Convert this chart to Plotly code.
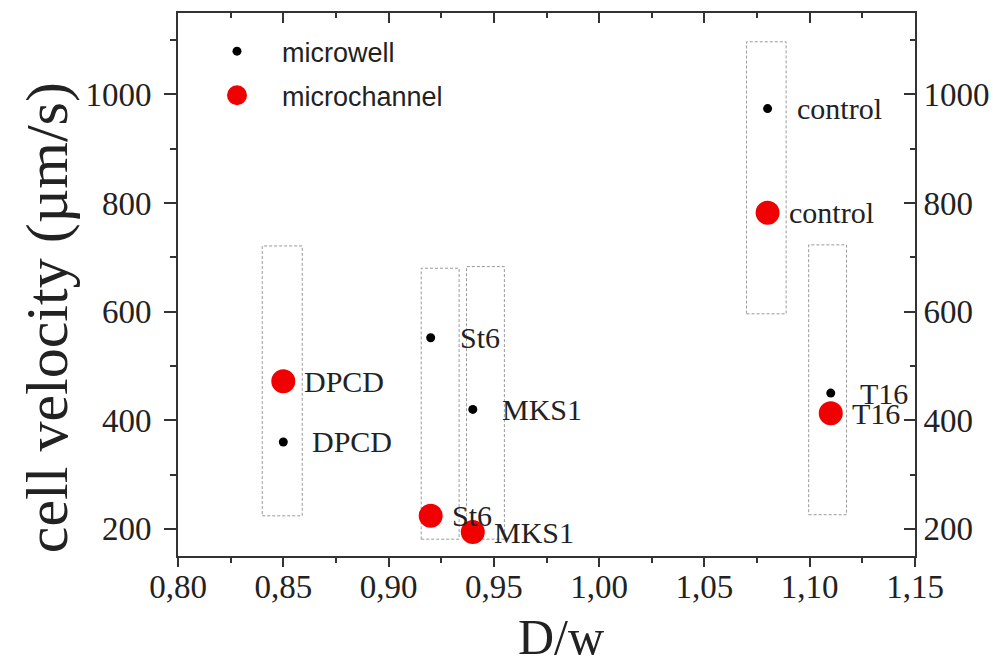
import plotly.graph_objects as go

# ---- data ----
labels = ["DPCD", "St6", "MKS1", "control", "T16"]
dw = [0.85, 0.92, 0.94, 1.08, 1.11]
microwell = [360, 552, 420, 974, 450]
microchannel = [472, 224, 194, 782, 413]

# dotted group boxes (D/w range, velocity range)
box_x0 = [0.840, 0.9155, 0.937, 1.070, 1.0995]
box_x1 = [0.859, 0.9335, 0.955, 1.0888, 1.1175]
box_y0 = [224, 181, 181, 596, 226]
box_y1 = [721, 680, 683, 1097, 723]

x_ticks = [0.80, 0.85, 0.90, 0.95, 1.00, 1.05, 1.10, 1.15]
y_ticks = [200, 400, 600, 800, 1000]

x_title = "D/w"
y_title = "cell velocity (µm/s)"

serif = "Liberation Serif, Times New Roman, serif"
sans = "Liberation Sans, Arial, sans-serif"
axcol = "#333333"
txtcol = "#222222"

fig = go.Figure()

fig.add_trace(go.Scatter(
    x=dw, y=microchannel, mode="markers", name="microchannel",
    marker=dict(color="#f00000", size=20, line=dict(width=4, color="#f00000")),
    legendgroup="b", legendrank=2))
fig.add_trace(go.Scatter(
    x=dw, y=microwell, mode="markers", name="microwell",
    marker=dict(color="black", size=9, line=dict(width=0)),
    legendgroup="a", legendrank=1))
# empty trace so the mirrored top/right axes are drawn
fig.add_trace(go.Scatter(x=[None], y=[None], xaxis="x2", yaxis="y2",
                         showlegend=False, hoverinfo="skip", mode="markers"))

for x0, x1, y0, y1 in zip(box_x0, box_x1, box_y0, box_y1):
    fig.add_shape(type="rect", x0=x0, x1=x1, y0=y0, y1=y1, xref="x", yref="y",
                  line=dict(color="#9a9a9a", width=1, dash="3px,2px"),
                  fillcolor="rgba(0,0,0,0)", layer="below")

for lab, x, yw, yc in zip(labels, dw, microwell, microchannel):
    fig.add_annotation(x=x, y=yw, text=lab, xref="x", yref="y", showarrow=False,
                       xanchor="left", yanchor="middle", xshift=27,
                       font=dict(family=serif, size=30, color=txtcol))
    fig.add_annotation(x=x, y=yc, text=lab, xref="x", yref="y", showarrow=False,
                       xanchor="left", yanchor="middle", xshift=19,
                       font=dict(family=serif, size=30, color=txtcol))

# axis titles
fig.add_annotation(x=0.5197, y=-0.149, xref="paper", yref="paper", text=x_title,
                   showarrow=False, xanchor="center", yanchor="middle",
                   font=dict(family=serif, size=50, color=txtcol))
fig.add_annotation(x=-0.1777, y=0.438, xref="paper", yref="paper", text=y_title,
                   showarrow=False, xanchor="center", yanchor="middle", textangle=-90,
                   font=dict(family=serif, size=60, color=txtcol))

xr = [0.80, 1.15]
yr = [150, 1150]

fig.update_layout(
    width=997, height=660,
    margin=dict(l=170, r=90, t=5, b=112),
    paper_bgcolor="white", plot_bgcolor="white",
    separators=", ",
    showlegend=True,
    legend=dict(x=0.019, y=0.974, xanchor="left", yanchor="top",
                font=dict(family=sans, size=27, color=txtcol),
                bgcolor="rgba(0,0,0,0)", itemsizing="trace",
                tracegroupgap=6, itemwidth=80),
    xaxis=dict(range=xr, tickvals=x_ticks, tickformat=".2f",
               ticks="outside", ticklen=9, tickwidth=1.5, tickcolor=axcol,
               showline=True, linecolor=axcol, linewidth=1.6, showgrid=False,
               zeroline=False, ticklabelstandoff=-8,
               minor=dict(dtick=0.025, tick0=0.8, ticks="outside", ticklen=5,
                          tickwidth=1.5, tickcolor=axcol, showgrid=False),
               tickfont=dict(family=serif, size=33, color=txtcol)),
    yaxis=dict(range=yr, tickvals=y_ticks,
               ticks="outside", ticklen=12, tickwidth=1.5, tickcolor=axcol,
               showline=True, linecolor=axcol, linewidth=1.6, showgrid=False,
               zeroline=False, ticklabelstandoff=6,
               minor=dict(dtick=100, tick0=0, ticks="outside", ticklen=6,
                          tickwidth=1.5, tickcolor=axcol, showgrid=False),
               tickfont=dict(family=serif, size=33, color=txtcol)),
    xaxis2=dict(range=xr, overlaying="x", side="top", anchor="y2",
                tickvals=x_ticks, showticklabels=False,
                ticks="inside", ticklen=10, tickwidth=1.5, tickcolor=axcol,
                showline=True, linecolor=axcol, linewidth=1.6, showgrid=False,
                zeroline=False,
                minor=dict(dtick=0.025, tick0=0.8, ticks="inside", ticklen=5,
                           tickwidth=1.5, tickcolor=axcol, showgrid=False)),
    yaxis2=dict(range=yr, overlaying="y", side="right", anchor="x2",
                tickvals=y_ticks,
                ticks="inside", ticklen=11, tickwidth=1.5, tickcolor=axcol,
                showline=True, linecolor=axcol, linewidth=1.6, showgrid=False,
                zeroline=False,
                minor=dict(dtick=100, tick0=0, ticks="inside", ticklen=5,
                           tickwidth=1.5, tickcolor=axcol, showgrid=False),
                tickfont=dict(family=serif, size=33, color=txtcol)),
)

fig.write_html("out.html")
